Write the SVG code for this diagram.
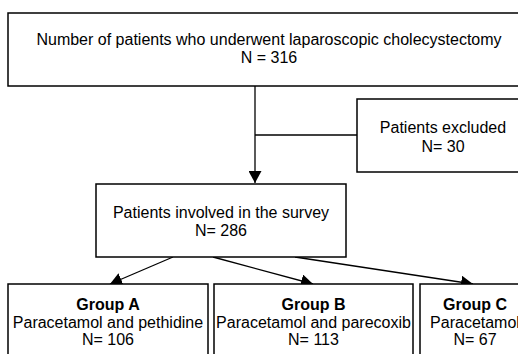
<svg xmlns="http://www.w3.org/2000/svg" width="518" height="354" viewBox="0 0 518 354">
<defs>
<style>
.box{fill:#fff;stroke:#000;stroke-width:1.5}
.t{font-family:"Liberation Sans",Arial,sans-serif;font-size:16px;fill:#000;text-anchor:middle}
.b{font-weight:bold}
.c{fill:none;stroke:#000;stroke-width:1.3}
</style>
<marker id="ah" viewBox="0 0 12 13" refX="12" refY="6.5" markerWidth="12" markerHeight="13" markerUnits="userSpaceOnUse" orient="auto">
<path d="M0,0 L12,6.5 L0,13 Z" fill="#000"/>
</marker>
</defs>
<rect width="518" height="354" fill="#fff"/>
<g id="connectors">
<path class="c" d="M255,86 V183" marker-end="url(#ah)"/>
<path class="c" d="M255,135 H357"/>
<path class="c" d="M173,257 L110,284" marker-end="url(#ah)"/>
<path class="c" d="M213,257 L313,284" marker-end="url(#ah)"/>
<path class="c" d="M295,257 L473,284" marker-end="url(#ah)"/>
</g>
<g id="total">
<rect class="box" x="8" y="13" width="522" height="73"/>
<text class="t" x="269" y="45">Number of patients who underwent laparoscopic cholecystectomy</text>
<text class="t" x="269" y="63">N = 316</text>
</g>
<g id="excluded">
<rect class="box" x="357" y="99" width="172" height="73"/>
<text class="t" x="443" y="133">Patients excluded</text>
<text class="t" x="443" y="152">N= 30</text>
</g>
<g id="survey">
<rect class="box" x="96" y="184" width="250" height="73"/>
<text class="t" x="221" y="218">Patients involved in the survey</text>
<text class="t" x="221" y="236">N= 286</text>
</g>
<g id="groupA">
<rect class="box" x="8" y="284" width="200" height="80"/>
<text class="t b" x="108" y="310">Group A</text>
<text class="t" x="108" y="327.5">Paracetamol and pethidine</text>
<text class="t" x="108" y="345">N= 106</text>
</g>
<g id="groupB">
<rect class="box" x="214" y="284" width="199" height="80"/>
<text class="t b" x="313.5" y="310">Group B</text>
<text class="t" x="313.5" y="327.5">Paracetamol and parecoxib</text>
<text class="t" x="313.5" y="345">N= 113</text>
</g>
<g id="groupC">
<rect class="box" x="420" y="284" width="110" height="80"/>
<text class="t b" x="475" y="310">Group C</text>
<text class="t" x="475" y="327.5">Paracetamol</text>
<text class="t" x="475" y="345">N= 67</text>
</g>
</svg>
